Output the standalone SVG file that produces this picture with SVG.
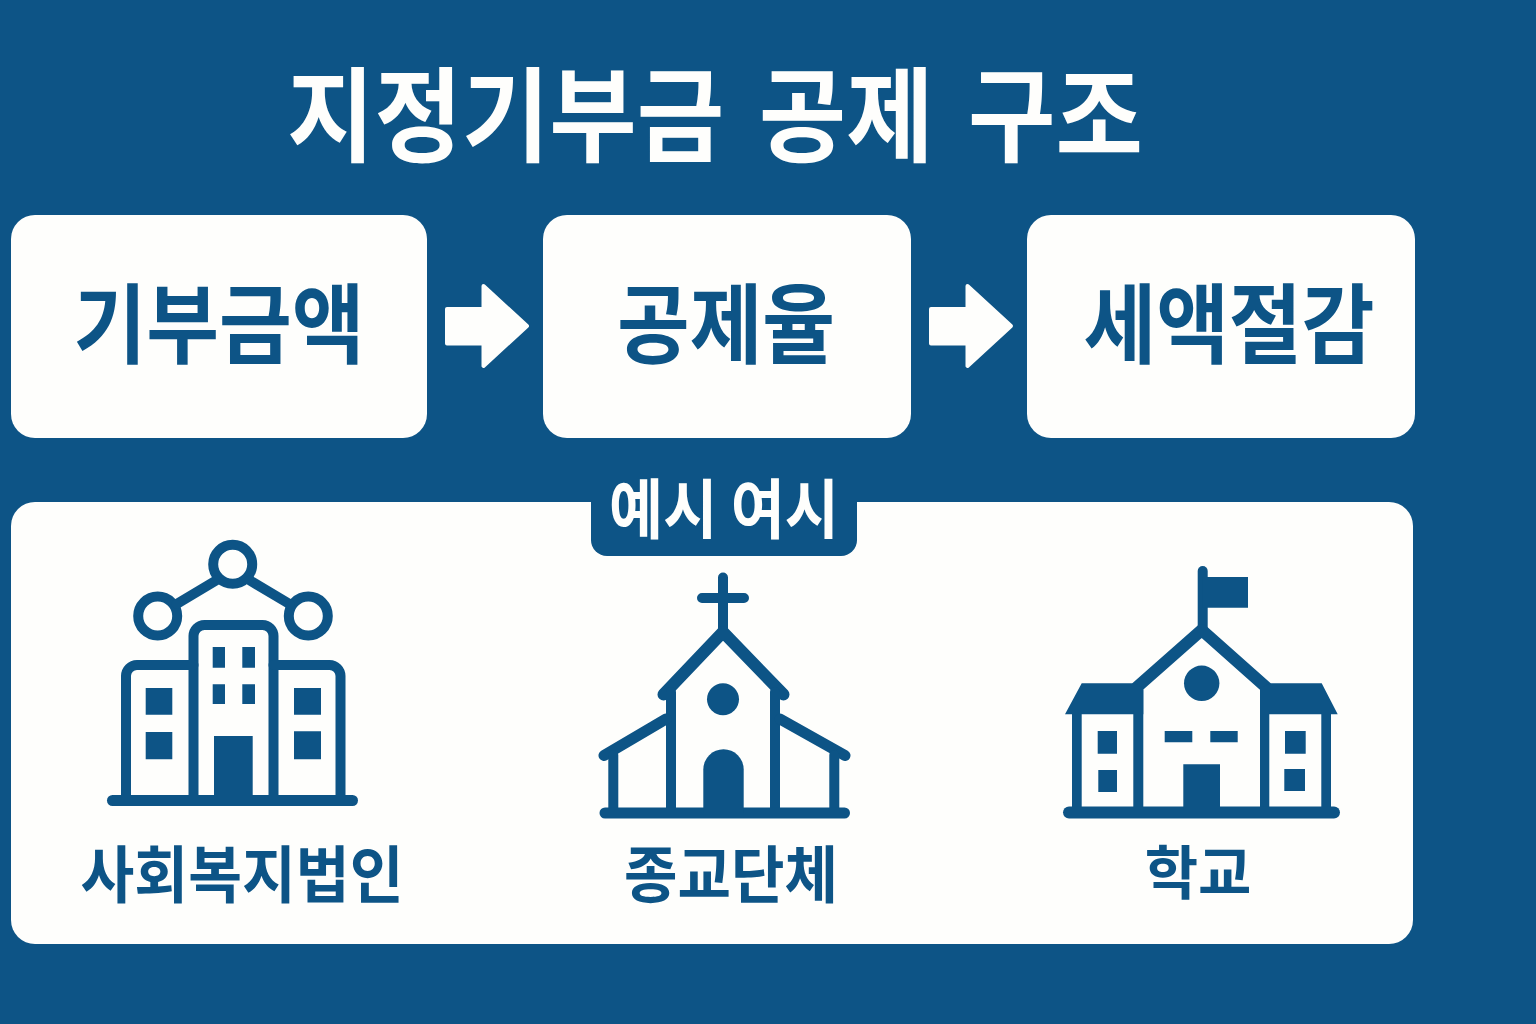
<svg xmlns="http://www.w3.org/2000/svg" width="1536" height="1024" viewBox="0 0 1536 1024">
<style>
.t{font-family:"Noto Sans CJK KR","Noto Sans",sans-serif;font-weight:700;text-anchor:middle}
.w{fill:#fefefc}
.b{fill:#0d5486}
.s{fill:none;stroke:#0d5486;stroke-width:10;stroke-linecap:round;stroke-linejoin:round}
.s2{stroke-width:11}
.s3{stroke-width:12}
.a{fill:#fefefc;stroke:#fefefc;stroke-width:4;stroke-linejoin:round}
</style>
<rect width="1536" height="1024" fill="#0d5486"/>
<g id="title"><text class="t w" x="715" y="154" font-size="103" textLength="856" lengthAdjust="spacingAndGlyphs" word-spacing="14">지정기부금 공제 구조</text></g>
<g id="node-donation"><rect class="w" x="11" y="215" width="416" height="223" rx="24"/><text class="t b" x="219" y="357" font-size="87" textLength="291" lengthAdjust="spacingAndGlyphs">기부금액</text></g>
<g id="node-rate"><rect class="w" x="543" y="215" width="368" height="223" rx="24"/><text class="t b" x="726" y="357" font-size="87" textLength="218" lengthAdjust="spacingAndGlyphs">공제율</text></g>
<g id="node-saving"><rect class="w" x="1027" y="215" width="388" height="223" rx="24"/><text class="t b" x="1229" y="357" font-size="87" textLength="291" lengthAdjust="spacingAndGlyphs">세액절감</text></g>
<g id="connectors">
<path class="a" d="M447 309H483.500V286L527 326 483.500 366V343.500H447Z"/>
<path class="a" d="M931 309H967.500V286L1011 326 967.500 366V343.500H931Z"/>
</g>
<g id="panel"><rect class="w" x="11" y="502" width="1402" height="442" rx="24"/>
<path class="b" d="M591 495H857V540a16 16 0 0 1-16 16H607a16 16 0 0 1-16-16Z"/>
<text class="w t" x="724" y="533" font-size="65" textLength="230" lengthAdjust="spacingAndGlyphs">예시 여시</text></g>
<g id="node-welfare">
<circle class="s" cx="232.700" cy="564.300" r="19.500"/><circle class="s" cx="157.700" cy="616" r="19.500"/><circle class="s" cx="308.300" cy="616" r="19.500"/>
<path class="s" d="M176.700 604 216 580.500M250 580.500 289.500 604"/>
<path class="s" d="M193.500 800V636a11 11 0 0 1 11-11H262.500a11 11 0 0 1 11 11V800"/>
<path class="s" d="M126 800V676a11 11 0 0 1 11-11H193.500M273.500 665H329.500a11 11 0 0 1 11 11V800"/>
<path class="s s2" d="M112.500 800.500H352.500"/>
<path class="b" d="M212.700 647H225V667.700H212.700ZM242.300 647H255V667.700H242.300ZM212.700 684.300H225V704H212.700ZM242.300 684.300H255V704H242.300ZM145.700 688H172.300V714.700H145.700ZM145.700 732H172.300V759.300H145.700ZM294 688H321V714.700H294ZM294 731.300H321V759.300H294ZM214 736H252.700V800H214Z"/>
<text class="t b" x="242" y="898" font-size="62" textLength="323" lengthAdjust="spacingAndGlyphs">사회복지법인</text>
</g>
<g id="node-religion">
<path class="s" d="M723 577.500V634M702 598H744"/>
<path class="s s3" d="M663.500 694.500 723 632 783.500 694.500"/>
<path class="s" d="M671 692V812M775 692V812"/>
<path class="s s2" d="M666 719 604 755.500M780 719 845 755.500"/>
<path class="s" d="M613.300 755V812M834.300 755V812"/>
<path class="s s2" d="M605 813H844.500"/>
<circle class="b" cx="723" cy="699.300" r="16"/>
<path class="b" d="M703.300 813V769.500a20.200 20.200 0 0 1 40.400 0V813Z"/>
<text class="t b" x="731" y="898" font-size="62" textLength="214" lengthAdjust="spacingAndGlyphs">종교단체</text>
</g>
<g id="node-school">
<path class="s" d="M1202.700 571V632"/>
<path class="b" d="M1202.700 577H1248V607.700H1202.700Z"/>
<path class="s s3" style="stroke-linecap:butt" d="M1136 688 1201.700 630 1267 688"/>
<path class="b" d="M1081.700 683.300H1135L1143.300 688V714.300H1065ZM1270 683.300H1321.700L1337.700 714.300H1260V688Z"/>
<path class="b" d="M1072 710H1081.700V812H1072ZM1133.300 710H1143.300V812H1133.300ZM1260 710H1269.300V812H1260ZM1321.300 710H1331V812H1321.300ZM1138 690H1143.300V715H1138Z"/>
<path class="s s3" d="M1069 812.500H1334"/>
<circle class="b" cx="1201.700" cy="683.300" r="17.700"/>
<path class="b" d="M1164.700 731H1192.300V742.300H1164.700ZM1210.300 731H1237.700V742.300H1210.300ZM1183.300 764.300H1220V810H1183.300ZM1097.700 731H1117V753.700H1097.700ZM1098.300 770H1117V792H1098.300ZM1285 731H1305.700V753.700H1285ZM1284.300 769H1305V791H1284.300Z"/>
<text class="t b" x="1198" y="894" font-size="58">학교</text>
</g>
</svg>
